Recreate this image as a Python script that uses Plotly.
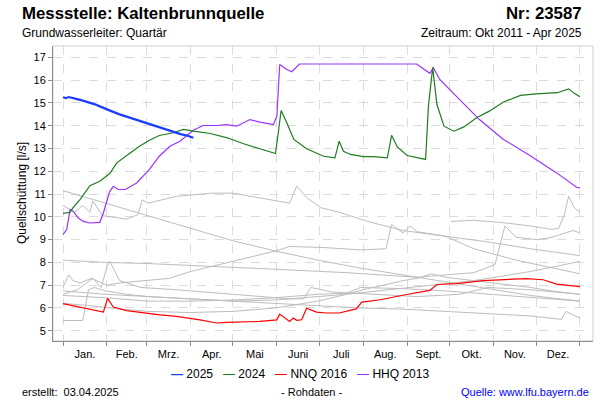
import plotly.graph_objects as go

# ---------------- data (x = day of year, 0 = 1 Jan) ----------------
MONTH_STARTS = [0, 31, 59, 90, 120, 151, 181, 212, 243, 273, 304, 334, 365]
MONTH_LABELS = ["Jan.", "Feb.", "Mrz.", "Apr.", "Mai", "Juni", "Juli",
                "Aug.", "Sept.", "Okt.", "Nov.", "Dez."]
Y_TICKS = list(range(5, 18))

days_2025 = [0, 2, 4, 7, 10, 14, 18, 22, 26, 30, 35, 40, 45, 50, 56, 62, 68, 73, 78, 83, 88, 92]
vals_2025 = [15.25, 15.21, 15.26, 15.2, 15.17, 15.1, 15.04, 14.95, 14.85, 14.76, 14.62, 14.5,
             14.4, 14.28, 14.16, 14.05, 13.95, 13.85, 13.74, 13.63, 13.56, 13.47]

days_2024 = [0, 5, 7, 12, 19, 26, 33, 38, 45, 54, 61, 68, 78, 85, 92, 104, 116, 127, 139, 150,
             152, 154, 158, 163, 172, 184, 192, 195, 198, 203, 212, 219, 229, 232, 236, 243, 256,
             258, 261, 264, 269, 276, 283, 292, 301, 311, 323, 334, 349, 357, 361, 365]
vals_2024 = [10.15, 10.2, 10.39, 10.76, 11.37, 11.56, 11.9, 12.37, 12.69, 13.1, 13.36, 13.57,
             13.69, 13.84, 13.76, 13.66, 13.47, 13.22, 12.99, 12.78, 13.69, 14.67, 14.13, 13.4,
             12.99, 12.66, 12.59, 13.32, 12.88, 12.74, 12.64, 12.64, 12.59, 13.58, 13.07, 12.69,
             12.52, 14.86, 16.55, 14.93, 13.98, 13.76, 13.95, 14.35, 14.64, 15.04, 15.33, 15.4,
             15.45, 15.62, 15.42, 15.27]

days_nnq2016 = [0, 12, 28.5, 31.5, 35.5, 45, 56.7, 68.5, 80, 96.7, 108.5, 115.6, 139, 151, 153,
                160, 162.6, 165, 168.5, 172, 179, 186, 195, 202.6, 207, 211, 224, 242.6, 259, 264,
                278, 296.7, 327, 339, 348.5, 365]
vals_nnq2016 = [6.19, 6.02, 5.82, 6.42, 6.04, 5.88, 5.78, 5.7, 5.63, 5.48, 5.34, 5.37, 5.41, 5.48,
                5.73, 5.41, 5.56, 5.46, 5.48, 5.99, 5.82, 5.78, 5.78, 5.88, 5.96, 6.26, 6.36, 6.59,
                6.77, 7.03, 7.07, 7.2, 7.29, 7.24, 7.05, 6.94]

days_hhq2013 = [0, 2.6, 5, 7.3, 10.8, 14.3, 19, 26, 28.5, 31, 33, 35.5, 39, 44, 52, 61, 68, 75.5,
                82.6, 92, 99, 108.5, 115.6, 122.6, 132, 139, 148.5, 151, 153, 158, 161.5, 167,
                249.7, 259, 261.5, 266, 282.6, 294, 311, 325, 329.7, 348.5, 357.9, 362.6, 365]
vals_hhq2013 = [9.22, 9.44, 10.32, 10.24, 9.95, 9.8, 9.73, 9.76, 10.17, 10.76, 11.12, 11.34, 11.2,
                11.2, 11.49, 12.08, 12.66, 13.1, 13.32, 13.8, 14.01, 14.01, 14.05, 13.98, 14.27,
                14.16, 14.05, 14.42, 16.69, 16.47, 16.37, 16.71, 16.71, 16.3, 16.55, 16.03, 15.01,
                14.27, 13.4, 12.88, 12.69, 11.93, 11.49, 11.3, 11.27]

# other years (grey)
grey_days_1 = [0, 30, 60, 90, 120, 150, 180, 210, 240, 270, 300, 330, 365]
grey_vals_1 = [11.15, 10.6, 10.05, 9.5, 8.95, 8.5, 8.1, 7.75, 7.45, 7.15, 6.85, 6.55, 6.3]

grey_days_2 = [0, 8, 14, 19, 21, 28, 45, 53, 56, 60, 80, 105, 120, 138, 160, 165, 172, 182, 195,
               215, 240, 270, 300, 330, 365]
grey_vals_2 = [10.5, 10.2, 10.5, 10.2, 10.7, 10.05, 9.9, 10.1, 10.75, 10.6, 10.9, 11.04, 11.04,
               10.85, 10.6, 11.35, 10.85, 10.4, 10.2, 9.8, 9.4, 9.15, 8.9, 8.6, 8.3]

grey_days_3 = [274, 290, 310, 330, 345, 350, 354, 357, 361, 365]
grey_vals_3 = [9.8, 9.85, 9.75, 9.6, 9.45, 9.5, 10.1, 10.9, 10.4, 10.2]

grey_days_4 = [0, 30, 60, 100, 150, 200, 250, 290, 305, 312, 320, 335, 345, 360, 365]
grey_vals_4 = [8.1, 8.0, 7.95, 7.85, 7.7, 7.55, 7.35, 7.55, 7.9, 9.6, 9.1, 9.0, 9.1, 9.4, 9.3]

grey_days_5 = [0, 14, 18, 22, 30, 45, 60, 90, 120, 150, 170, 200, 230, 260, 290, 310, 330, 350, 365]
grey_vals_5 = [5.45, 5.45, 6.8, 6.9, 6.75, 6.6, 6.5, 6.4, 6.3, 6.35, 6.45, 6.6, 6.8, 7.0, 7.2,
               7.4, 7.6, 7.85, 8.05]

grey_days_6 = [0, 4, 7, 12, 20, 31, 40, 60, 75, 90, 110, 130, 150, 160, 185, 210, 228, 232, 240,
               245, 250, 270, 290, 320, 350, 365]
grey_vals_6 = [6.9, 7.45, 7.2, 7.1, 7.3, 7.0, 7.1, 7.2, 7.3, 7.6, 7.9, 8.2, 8.5, 8.7, 8.65, 8.55,
               8.6, 9.66, 9.3, 9.6, 9.35, 9.15, 8.6, 8.1, 7.7, 7.5]

grey_days_7 = [0, 10, 21, 27, 31, 33, 40, 55, 80, 100, 130, 160, 170, 175, 190, 220, 250, 280,
               300, 330, 365]
grey_vals_7 = [6.6, 6.8, 7.3, 6.9, 7.8, 8.05, 7.2, 6.9, 6.8, 6.7, 6.55, 6.4, 6.4, 6.9, 6.7, 6.6,
               6.5, 6.6, 6.9, 6.8, 6.6]

grey_days_8 = [0, 30, 60, 90, 120, 150, 180, 210, 240, 270, 300, 330, 352, 355, 365]
grey_vals_8 = [6.75, 6.6, 6.5, 6.4, 6.3, 6.2, 6.1, 6.0, 5.95, 5.85, 5.75, 5.65, 5.5, 5.85, 5.55]

grey_days_9 = [0, 30, 60, 90, 120, 150, 180, 200, 210, 240, 270, 300, 330, 365]
grey_vals_9 = [6.55, 6.45, 6.3, 6.3, 6.35, 6.45, 6.6, 6.65, 6.9, 6.85, 6.75, 6.6, 6.45, 6.3]

grey_days_10 = [0, 20, 40, 60, 90, 120, 150, 180, 200, 215, 230, 240, 250, 260, 270, 290, 310,
                330, 345, 365]
grey_vals_10 = [6.2, 6.1, 5.95, 5.85, 5.8, 5.85, 6.0, 6.3, 6.6, 6.85, 7.05, 7.2, 7.3, 7.5, 7.35,
                7.2, 7.05, 6.9, 6.75, 6.6]

GREY_SERIES = [(grey_days_1, grey_vals_1), (grey_days_2, grey_vals_2), (grey_days_3, grey_vals_3),
               (grey_days_4, grey_vals_4), (grey_days_5, grey_vals_5), (grey_days_6, grey_vals_6),
               (grey_days_7, grey_vals_7), (grey_days_8, grey_vals_8), (grey_days_9, grey_vals_9),
               (grey_days_10, grey_vals_10)]

# ---------------- figure ----------------
FONT = "Liberation Sans, Arial, sans-serif"
W, H = 600, 400
L, R, T, B = 53, 7, 46, 59
PW, PH = W - L - R, H - T - B


def px(x):
    return (x - L) / PW


def py(y):
    return (H - B - y) / PH


fig = go.Figure()
for d, v in GREY_SERIES:
    fig.add_trace(go.Scatter(x=d, y=v, mode="lines", showlegend=False,
                             line=dict(color="#bdbdbd", width=1)))

fig.add_trace(go.Scatter(x=days_nnq2016, y=vals_nnq2016, mode="lines", name="NNQ 2016",
                         line=dict(color="#ff0000", width=1.2)))
fig.add_trace(go.Scatter(x=days_hhq2013, y=vals_hhq2013, mode="lines", name="HHQ 2013",
                         line=dict(color="#9933ff", width=1.2)))
fig.add_trace(go.Scatter(x=days_2024, y=vals_2024, mode="lines", name="2024",
                         line=dict(color="#1e7d1e", width=1.2)))
fig.add_trace(go.Scatter(x=days_2025, y=vals_2025, mode="lines", name="2025",
                         line=dict(color="#1a3cff", width=2.2)))

mids = [(a + b) / 2 for a, b in zip(MONTH_STARTS[:-1], MONTH_STARTS[1:])]

fig.update_xaxes(
    range=[-7.06, 374.2], tickmode="array", tickvals=mids, ticktext=MONTH_LABELS,
    ticks="outside", ticklen=3, tickcolor="rgba(0,0,0,0)", showgrid=False, zeroline=False,
    showline=True, linecolor="#8c8c8c", linewidth=1,
    tickfont=dict(family=FONT, size=11, color="#000000"),
    minor=dict(tickmode="array", tickvals=MONTH_STARTS, ticks="outside", ticklen=4,
               tickcolor="#8c8c8c", showgrid=True, gridcolor="#dcdcdc", griddash="dash",
               gridwidth=1),
)
fig.update_yaxes(
    range=[4.55, 17.5], tickmode="array", tickvals=Y_TICKS, ticks="outside", ticklen=4,
    tickcolor="#8c8c8c", showgrid=True, gridcolor="#dcdcdc", griddash="dash", gridwidth=1,
    zeroline=False, showline=True, linecolor="#8c8c8c", linewidth=1,
    tickfont=dict(family=FONT, size=11, color="#000000"),
)

legend_html = (
    "<span style='color:#1a3cff'><b>—</b></span> 2025\u00a0\u00a0\u00a0"
    "<span style='color:#1e7d1e'>—</span> 2024\u00a0\u00a0\u00a0"
    "<span style='color:#ff0000'>—</span> NNQ 2016\u00a0\u00a0\u00a0"
    "<span style='color:#9933ff'>—</span> HHQ 2013"
)

ann = [
    dict(text="<b>Messstelle: Kaltenbrunnquelle</b>", x=px(20), y=py(14), xanchor="left",
         yanchor="middle", font=dict(size=16.8, family=FONT, color="#000")),
    dict(text="<b>Nr: 23587</b>", x=px(584), y=py(14), xanchor="right", yanchor="middle",
         font=dict(size=16.8, family=FONT, color="#000")),
    dict(text="Grundwasserleiter: Quartär", x=px(20), y=py(33), xanchor="left",
         yanchor="middle", font=dict(size=12, family=FONT, color="#000")),
    dict(text="Zeitraum: Okt 2011 - Apr 2025", x=px(584), y=py(33), xanchor="right",
         yanchor="middle", font=dict(size=12, family=FONT, color="#000")),
    dict(text="Quellschüttung [l/s]", x=px(22), y=py(193), xanchor="center", yanchor="middle",
         textangle=-90, font=dict(size=12, family=FONT, color="#000")),
    dict(text=legend_html, x=px(300), y=py(374), xanchor="center", yanchor="middle",
         font=dict(size=12, family=FONT, color="#000")),
    dict(text="erstellt:\u00a0\u00a003.04.2025", x=px(20), y=py(392), xanchor="left",
         yanchor="middle", font=dict(size=11, family=FONT, color="#000")),
    dict(text="- Rohdaten -", x=px(311), y=py(392), xanchor="center", yanchor="middle",
         font=dict(size=11, family=FONT, color="#000")),
    dict(text="Quelle: www.lfu.bayern.de", x=px(591), y=py(392), xanchor="right",
         yanchor="middle", font=dict(size=11, family=FONT, color="#0000ff")),
]
for a in ann:
    a.update(xref="paper", yref="paper", showarrow=False)

fig.update_layout(
    width=W, height=H, margin=dict(l=L, r=R, t=T, b=B, pad=0),
    paper_bgcolor="white", plot_bgcolor="white", showlegend=False,
    annotations=ann,
    shapes=[dict(type="rect", xref="paper", yref="paper", x0=0, x1=1, y0=0, y1=1,
                 line=dict(color="#cfcfcf", width=1), layer="below")],
    font=dict(family=FONT),
)

fig.write_html("out.html")
